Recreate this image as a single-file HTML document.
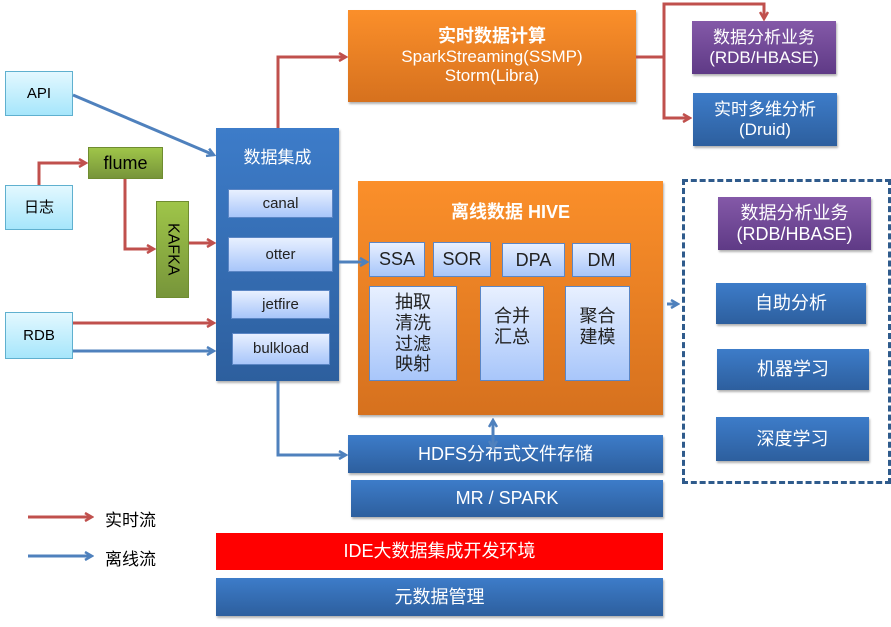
<!DOCTYPE html>
<html><head><meta charset="utf-8"><style>
body{margin:0;width:891px;height:627px;background:#fff;position:relative;overflow:hidden;font-family:"Liberation Sans","Noto Sans CJK SC",sans-serif}
.b{position:absolute;box-sizing:border-box;display:flex;align-items:center;justify-content:center;text-align:center;line-height:1.15}
.lb{background:linear-gradient(#e3f8ff,#a6e6fb);border:1.5px solid #5fb0cf;font-size:15px;color:#000}
.gr{background:linear-gradient(#9fc549,#77953a);border:1px solid #6f8c30;color:#000}
.bl{background:linear-gradient(#3d7cc9,#2d5f9e);color:#fff;box-shadow:1px 2px 2px rgba(0,0,0,.3)}
.pu{background:linear-gradient(#8459a8,#5f3a86);color:#fff;box-shadow:1px 2px 2px rgba(0,0,0,.3)}
.or{background:linear-gradient(#fb8f2a,#d6711e);color:#fff;box-shadow:1px 2px 2px rgba(0,0,0,.3)}
.pb{background:linear-gradient(#e8f0ff,#a8c6fa);border:1.5px solid #5b86c5;color:#222;font-size:16px}
</style></head><body>
<div class="b lb" style="left:5px;top:71px;width:68px;height:45px">API</div>
<div class="b lb" style="left:5px;top:185px;width:68px;height:45px">日志</div>
<div class="b lb" style="left:5px;top:312px;width:68px;height:47px">RDB</div>
<div class="b gr" style="left:88px;top:147px;width:75px;height:32px;font-size:18px">flume</div>
<div class="b gr" style="left:156px;top:201px;width:33px;height:97px"><span style="transform:rotate(90deg);display:inline-block;font-size:16px;white-space:nowrap">KAFKA</span></div>
<div class="b bl" style="left:216px;top:128px;width:123px;height:253px;align-items:flex-start;padding-top:20px;font-size:17px">数据集成</div>
<div class="b pb" style="left:228px;top:189px;width:105px;height:29px;font-size:15px">canal</div>
<div class="b pb" style="left:228px;top:237px;width:105px;height:35px;font-size:15px">otter</div>
<div class="b pb" style="left:231px;top:290px;width:99px;height:29px;font-size:15px">jetfire</div>
<div class="b pb" style="left:232px;top:333px;width:98px;height:32px;font-size:15px">bulkload</div>
<div class="b or" style="left:348px;top:10px;width:288px;height:92px;font-size:17px">
<div><b style="font-size:18px">实时数据计算</b><br>SparkStreaming(SSMP)<br>Storm(Libra)</div></div>
<div class="b pu" style="left:692px;top:21px;width:144px;height:53px;font-size:17px">数据分析业务<br>(RDB/HBASE)</div>
<div class="b bl" style="left:693px;top:93px;width:144px;height:53px;font-size:17px">实时多维分析<br>(Druid)</div>
<div class="b or" style="left:358px;top:181px;width:305px;height:234px;align-items:flex-start;padding-top:21px;font-size:18px;font-weight:bold">离线数据 HIVE</div>
<div class="b pb" style="left:369px;top:242px;width:56px;height:35px;font-size:18px">SSA</div>
<div class="b pb" style="left:433px;top:242px;width:58px;height:35px;font-size:18px">SOR</div>
<div class="b pb" style="left:502px;top:243px;width:63px;height:34px;font-size:18px">DPA</div>
<div class="b pb" style="left:572px;top:243px;width:59px;height:34px;font-size:18px">DM</div>
<div class="b pb" style="left:369px;top:286px;width:88px;height:95px;font-size:18px">抽取<br>清洗<br>过滤<br>映射</div>
<div class="b pb" style="left:480px;top:286px;width:64px;height:95px;font-size:18px;padding-bottom:14px">合并<br>汇总</div>
<div class="b pb" style="left:565px;top:286px;width:65px;height:95px;font-size:18px;padding-bottom:14px">聚合<br>建模</div>
<div class="b bl" style="left:348px;top:435px;width:315px;height:38px;font-size:18px">HDFS分布式文件存储</div>
<div class="b bl" style="left:351px;top:480px;width:312px;height:37px;font-size:18px">MR / SPARK</div>
<div class="b" style="left:216px;top:533px;width:447px;height:37px;font-size:18px;background:#f00;color:#fff">IDE大数据集成开发环境</div>
<div class="b bl" style="left:216px;top:578px;width:447px;height:38px;font-size:18px">元数据管理</div>
<div style="position:absolute;left:682px;top:179px;width:203px;height:299px;border:3px dashed #2f5b8c"></div>
<div class="b pu" style="left:718px;top:197px;width:153px;height:53px;font-size:18px">数据分析业务<br>(RDB/HBASE)</div>
<div class="b bl" style="left:716px;top:283px;width:150px;height:41px;font-size:18px">自助分析</div>
<div class="b bl" style="left:717px;top:349px;width:152px;height:41px;font-size:18px">机器学习</div>
<div class="b bl" style="left:716px;top:417px;width:153px;height:44px;font-size:18px">深度学习</div>
<div style="position:absolute;left:105px;top:506px;font-size:17px">实时流</div>
<div style="position:absolute;left:105px;top:545px;font-size:17px">离线流</div>
<svg width="891" height="627" style="position:absolute;left:0;top:0" fill="none" stroke-width="3">
<defs>
<marker id="r" markerWidth="10" markerHeight="10" refX="8" refY="5" orient="auto" markerUnits="userSpaceOnUse"><path d="M1,1 L8,5 L1,9" stroke="#c0504d" stroke-width="2.5" fill="none"/></marker>
<marker id="u" markerWidth="10" markerHeight="10" refX="8" refY="5" orient="auto" markerUnits="userSpaceOnUse"><path d="M1,1 L8,5 L1,9" stroke="#4f81bd" stroke-width="2.5" fill="none"/></marker>
<marker id="u2" markerWidth="10" markerHeight="10" refX="2" refY="5" orient="auto" markerUnits="userSpaceOnUse"><path d="M9,1 L2,5 L9,9" stroke="#4f81bd" stroke-width="2.5" fill="none"/></marker>
</defs>
<g stroke="#c0504d" marker-end="url(#r)">
<path d="M39,185 V163 H86"/>
<path d="M125,179 V249 H154"/>
<path d="M189,243 H214"/>
<path d="M73,323 H214"/>
<path d="M278,128 V57 H346"/>
<path d="M636,57 H664 V4 H764 V19"/>
<path d="M664,57 V118 H690"/>
<path d="M28,517 H92"/>
</g>
<g stroke="#4f81bd" marker-end="url(#u)">
<path d="M73,95 L214,155"/>
<path d="M73,351 H214"/>
<path d="M339,262 H367"/>
<path d="M278,381 V455 H346"/>
<path d="M667,304 H678"/>
<path d="M493,420 V448" marker-start="url(#u2)"/>
<path d="M28,556 H92"/>
</g>
</svg>
</body></html>
